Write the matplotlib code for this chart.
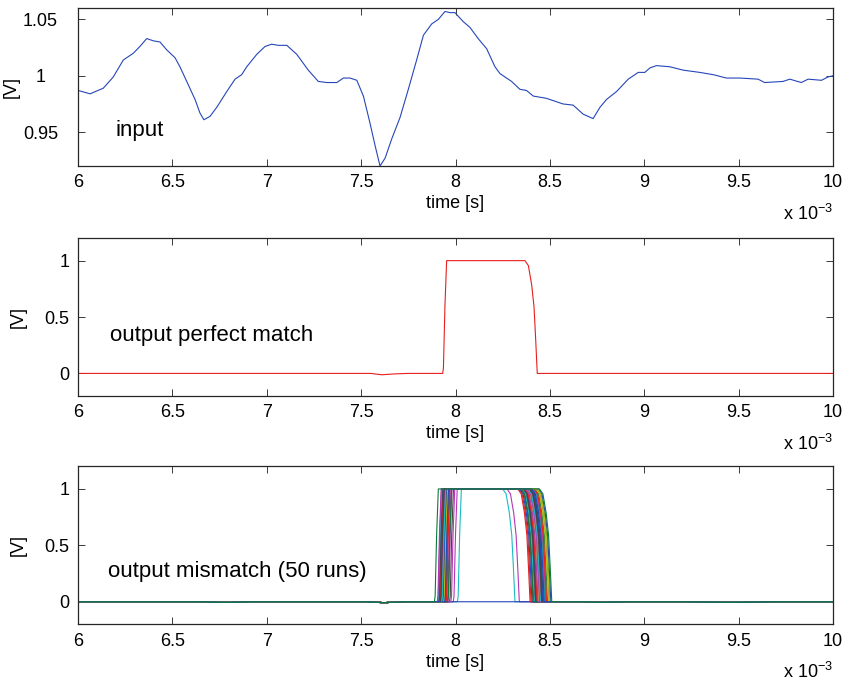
import numpy as np
import matplotlib
matplotlib.use("Agg")
import matplotlib.pyplot as plt

plt.rcParams['font.family'] = ['Liberation Sans', 'DejaVu Sans']
plt.rcParams['mathtext.fontset'] = 'custom'
plt.rcParams['mathtext.rm'] = 'Liberation Sans'
plt.rcParams['mathtext.it'] = 'Liberation Sans:italic'

# ---- input signal (time in ms, voltage in V) ----
input_t = [6.000, 6.064, 6.134, 6.187, 6.240, 6.293, 6.328, 6.364, 6.399, 6.434,
           6.470, 6.514, 6.540, 6.576, 6.620, 6.646, 6.667, 6.699, 6.735, 6.788,
           6.832, 6.867, 6.894, 6.947, 6.991, 7.026, 7.061, 7.106, 7.159, 7.220,
           7.273, 7.318, 7.371, 7.406, 7.441, 7.477, 7.512, 7.547, 7.574, 7.600,
           7.627, 7.662, 7.706, 7.750, 7.794, 7.830, 7.874, 7.909, 7.944, 7.971,
           7.997, 8.041, 8.076, 8.120, 8.165, 8.209, 8.235, 8.297, 8.341, 8.376,
           8.412, 8.482, 8.517, 8.570, 8.623, 8.676, 8.729, 8.765, 8.800, 8.853,
           8.915, 8.968, 9.003, 9.030, 9.065, 9.135, 9.206, 9.294, 9.365, 9.435,
           9.506, 9.603, 9.638, 9.735, 9.771, 9.832, 9.868, 9.939, 9.974, 10.000]
input_v = [0.987, 0.984, 0.989, 0.999, 1.014, 1.020, 1.026, 1.033, 1.031, 1.030,
           1.023, 1.016, 1.008, 0.995, 0.979, 0.967, 0.961, 0.964, 0.972, 0.986,
           0.997, 1.001, 1.008, 1.019, 1.026, 1.028, 1.027, 1.027, 1.019, 1.005,
           0.995, 0.994, 0.994, 0.998, 0.998, 0.996, 0.982, 0.958, 0.938, 0.920,
           0.927, 0.944, 0.963, 0.988, 1.014, 1.036, 1.046, 1.050, 1.057, 1.056,
           1.056, 1.048, 1.043, 1.033, 1.024, 1.008, 1.002, 0.995, 0.988, 0.987,
           0.982, 0.980, 0.978, 0.975, 0.974, 0.966, 0.962, 0.972, 0.979, 0.986,
           0.997, 1.003, 1.003, 1.007, 1.009, 1.008, 1.005, 1.003, 1.001, 0.998,
           0.998, 0.997, 0.994, 0.995, 0.997, 0.994, 0.997, 0.996, 0.999, 1.000]

# ---- pulse edge shapes (offsets in ms from the edge time) ----
rise_dt = [0.0, 0.004, 0.012, 0.021]
rise_v = [0.0, 0.05, 0.60, 1.0]
fall_dt = [-0.065, -0.047, -0.030, -0.017, -0.008, 0.0]
fall_v = [1.0, 0.956, 0.79, 0.59, 0.29, 0.0]

# ---- perfectly matched output ----
match_rise = 7.932
match_fall = 8.433
match_base_t = [6.0, 7.55, 7.61, 7.68, 7.75, 10.0]
match_base_v = [0.0, 0.0, -0.012, -0.004, 0.0, 0.0]

# ---- mismatched outputs, 50 runs (NaN: run never fires) ----
mism_rise = [7.915, 7.930, 8.010, 7.988, 7.945, 7.908, np.nan, 7.918, 7.935, 7.912,
             7.960, 7.922, 7.905, 7.940, 7.928, 7.950, 7.915, 7.932, 7.910, 7.968,
             7.920, 7.938, 7.907, 7.926, 7.955, 7.914, 7.933, 7.918, 7.944, 7.909,
             7.924, 7.975, 7.916, 7.936, 7.912, 7.929, 7.948, 7.906, 7.921, 7.940,
             7.913, 7.931, 7.958, 7.917, 7.927, 7.903, 7.937, 7.919, 7.942, 7.888]
mism_fall = [8.455, 8.430, 8.315, 8.338, 8.470, 8.415, np.nan, 8.445, 8.400, 8.462,
             8.425, 8.480, 8.438, 8.505, 8.450, 8.395, 8.468, 8.442, 8.485, 8.420,
             8.458, 8.475, 8.410, 8.448, 8.495, 8.435, 8.465, 8.428, 8.500, 8.452,
             8.418, 8.478, 8.440, 8.460, 8.405, 8.488, 8.432, 8.472, 8.446, 8.498,
             8.425, 8.463, 8.412, 8.482, 8.450, 8.437, 8.492, 8.457, 8.470, 8.510]
mism_base_t = [6.0, 6.65, 6.78, 6.92, 7.52, 7.62, 7.74, 8.66, 8.78, 8.92,
               9.20, 9.45, 9.72, 10.0]
mism_base_v = [0.0, 0.0, -0.006, 0.0, 0.0, -0.008, 0.0, 0.0, -0.005, 0.0,
               0.0, -0.005, 0.0, 0.0]

color_order = ['#2646b8', '#0c7a3e', '#e81e1e', '#18bcc2',
               '#b536b5', '#bdbd16', '#454545']

x_ticks = [6, 6.5, 7, 7.5, 8, 8.5, 9, 9.5, 10]


def pulse_trace(t_up, t_down, base_t, base_v):
    bt = np.asarray(base_t, float)
    bv = np.asarray(base_v, float)
    if np.isnan(t_up):
        return bt, bv
    before = bt < t_up
    after = bt > t_down
    t = np.concatenate([bt[before], t_up + np.asarray(rise_dt),
                        t_down + np.asarray(fall_dt), bt[after]])
    v = np.concatenate([bv[before], rise_v, fall_v, bv[after]])
    return t, v


def style_axis(ax, yticks, ylim):
    ax.set_xlim(6, 10)
    ax.set_ylim(*ylim)
    ax.set_xticks(x_ticks)
    ax.set_xticklabels(['%g' % x for x in x_ticks])
    ax.set_yticks(yticks)
    ax.set_yticklabels(['%g' % y for y in yticks])
    ax.tick_params(direction='in', length=5, width=0.7, top=True, right=True,
                   labelsize=13, color='#3a3a3a', pad=6)
    for s in ax.spines.values():
        s.set_linewidth(0.9)
        s.set_color('#262626')
    ax.set_xlabel('time [s]', fontsize=13, labelpad=3)
    ax.set_ylabel('[V]', fontsize=13)
    ax.annotate(r'x 10$^{-3}$', xy=(1.0, 0.0), xycoords='axes fraction',
                xytext=(0, -27), textcoords='offset points',
                ha='right', va='top', fontsize=13)


fig = plt.figure(figsize=(8.47, 6.82), dpi=100)
left, width, height = 0.0921, 0.8914, 0.2315

# input
ax1 = fig.add_axes([left, 0.7566, width, height])
ax1.plot(input_t, input_v, color=color_order[0], lw=0.8)
style_axis(ax1, [0.95, 1.0, 1.05], (0.92, 1.06))
for lab in ax1.get_yticklabels():
    lab.set_horizontalalignment('center')
ax1.tick_params(axis='y', pad=27)
ax1.yaxis.set_label_coords(-0.077, 0.5)
ax1.text(6.196, 0.9515, 'input', fontsize=16, va='center', ha='left')

# perfect match output
ax2 = fig.add_axes([left, 0.4194, width, height])
t2, v2 = pulse_trace(match_rise, match_fall, match_base_t, match_base_v)
ax2.plot(t2, v2, color='#e81e1e', lw=0.8)
style_axis(ax2, [0, 0.5, 1], (-0.2, 1.2))
ax2.yaxis.set_label_coords(-0.068, 0.5)
ax2.text(6.17, 0.338, 'output perfect match', fontsize=16, va='center', ha='left')

# mismatch output
ax3 = fig.add_axes([left, 0.0846, width, height])
n_runs = len(mism_rise)
for i in range(n_runs):
    t3, v3 = pulse_trace(mism_rise[i], mism_fall[i], mism_base_t, mism_base_v)
    ax3.plot(t3, v3, color=color_order[(i + 1) % len(color_order)], lw=0.8)
style_axis(ax3, [0, 0.5, 1], (-0.2, 1.2))
ax3.yaxis.set_label_coords(-0.068, 0.5)
ax3.text(6.16, 0.268, 'output mismatch (50 runs)', fontsize=16, va='center', ha='left')

fig.savefig('out.png', dpi=100)
